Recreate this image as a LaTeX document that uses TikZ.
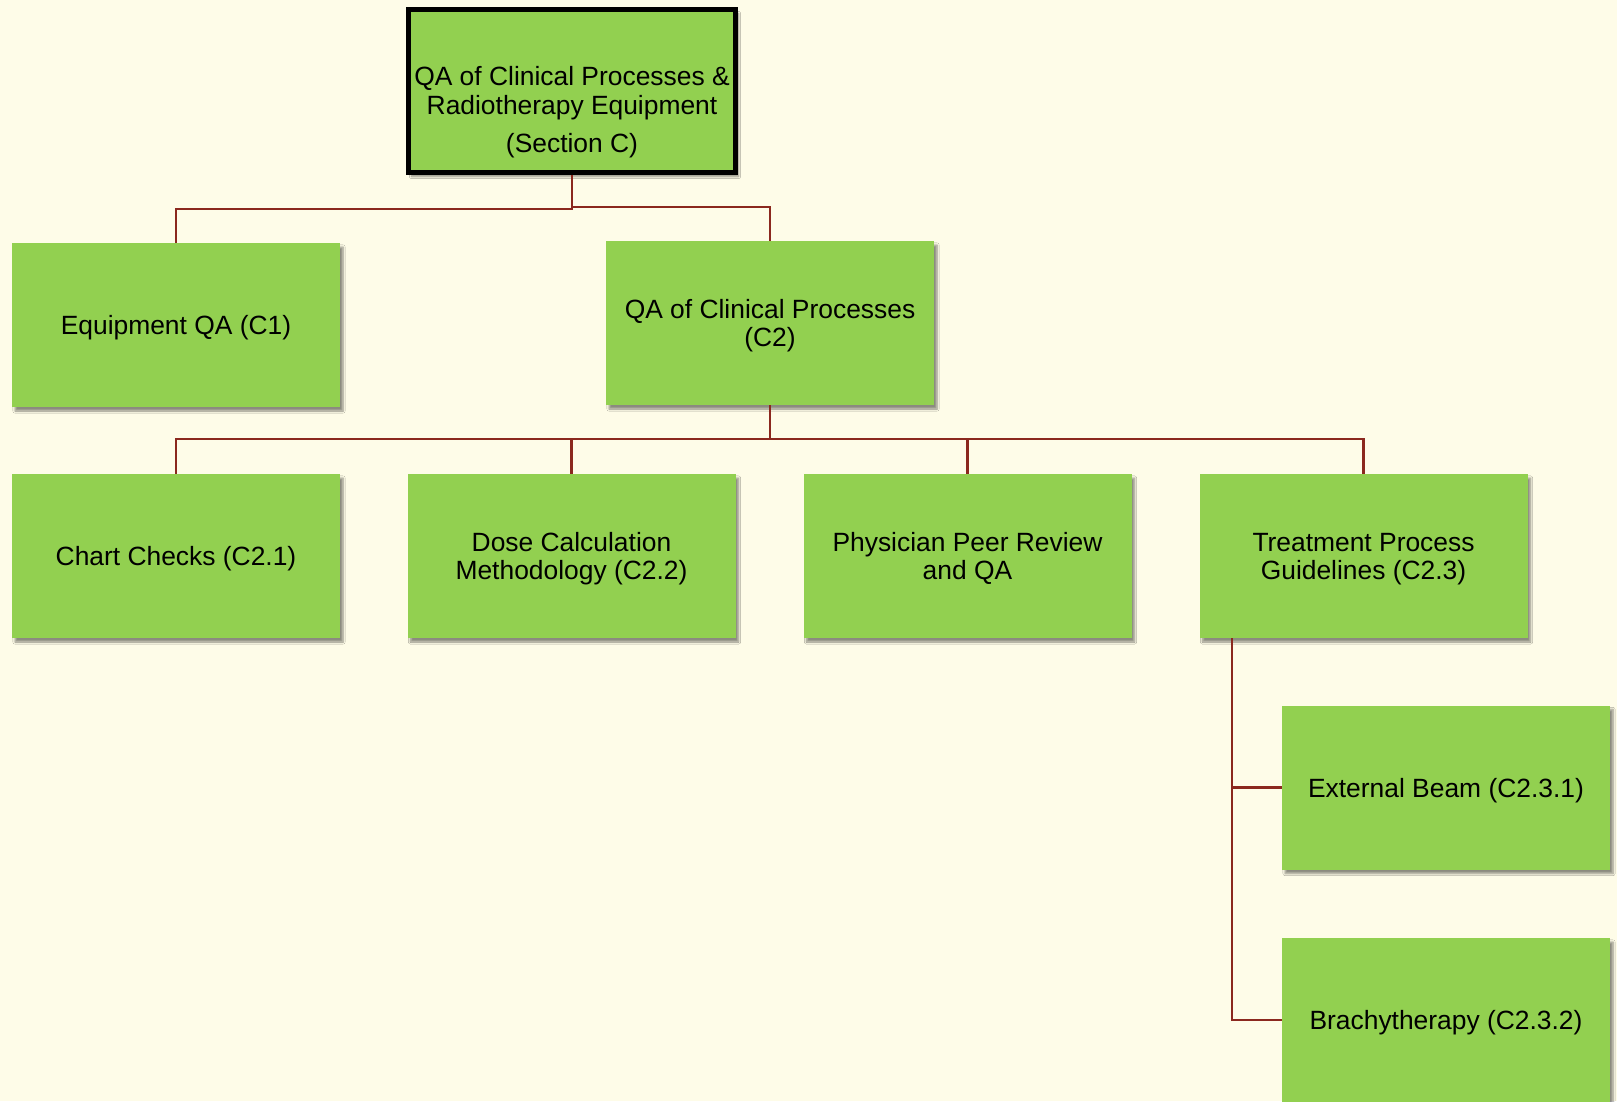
\documentclass[tikz,border=0pt]{standalone}
\usepackage{fontspec}
\setmainfont{Liberation Sans}
\usetikzlibrary{shadows.blur,calc}
\definecolor{bgcream}{RGB}{254,252,232}
\definecolor{boxgreen}{HTML}{92D050}
\definecolor{linkred}{RGB}{139,40,30}
\tikzset{
  unitbox/.style={rectangle, fill=boxgreen, draw=none,
    minimum width=328pt, minimum height=164pt, inner sep=0pt,
    align=center, font=\fontsize{26.4}{28}\selectfont, text depth=0pt,
    blur shadow={shadow xshift=3pt, shadow yshift=-4pt,
      shadow blur steps=6, shadow opacity=45}},
  rootbox/.style={unitbox, draw=black, line width=5pt,
    minimum width=327pt, minimum height=163pt},
  roottext/.style={align=center, inner sep=0pt,
    font=\fontsize{26.4}{29}\selectfont},
  link/.style={draw=linkred, line width=2.2pt}
}
\begin{document}
\begin{tikzpicture}[x=1pt, y=-1pt]
  % page background
  \path[use as bounding box, fill=bgcream] (0,0) rectangle (1617,1101);
  \clip (0,0) rectangle (1617,1101);

  % top level
  \node[rootbox] (root) at (572,91) {};
  \node[roottext] (rootlabel) at (572,112)
    {QA of Clinical Processes \&\\Radiotherapy Equipment\\[9pt](Section C)};

  % second level
  \node[unitbox] (c1) at (176,325) {Equipment QA (C1)};
  \node[unitbox] (c2) at (770,323) {QA of Clinical Processes\\(C2)};

  % third level
  \node[unitbox] (c21) at (176,556) {Chart Checks (C2.1)};
  \node[unitbox] (c22) at (571.5,556) {Dose Calculation\\Methodology (C2.2)};
  \node[unitbox] (c2p) at (967.5,556) {Physician Peer Review\\and QA};
  \node[unitbox] (c23) at (1363.5,556) {Treatment Process\\Guidelines (C2.3)};

  % fourth level
  \node[unitbox] (c231) at (1446,787.5) {External Beam (C2.3.1)};
  \node[unitbox] (c232) at (1446,1020) {Brachytherapy (C2.3.2)};

  % connectors
  \draw[link] (root.south) -- ++(0,34) -| (c1.north);
  \draw[link] (root.south) -- ++(0,32) -| (c2.north);

  \draw[link] (c2.south) -- ++(0,34) -| (c21.north);
  \draw[link] (c2.south) -- ++(0,34) -| (c22.north);
  \draw[link] (c2.south) -- ++(0,34) -| (c2p.north);
  \draw[link] (c2.south) -- ++(0,34) -| (c23.north);

  \coordinate (trunk) at ($(c23.south west)+(33,0)$);
  \draw[link] (trunk) |- (c231.west);
  \draw[link] (trunk) |- (c232.west);
\end{tikzpicture}
\end{document}
